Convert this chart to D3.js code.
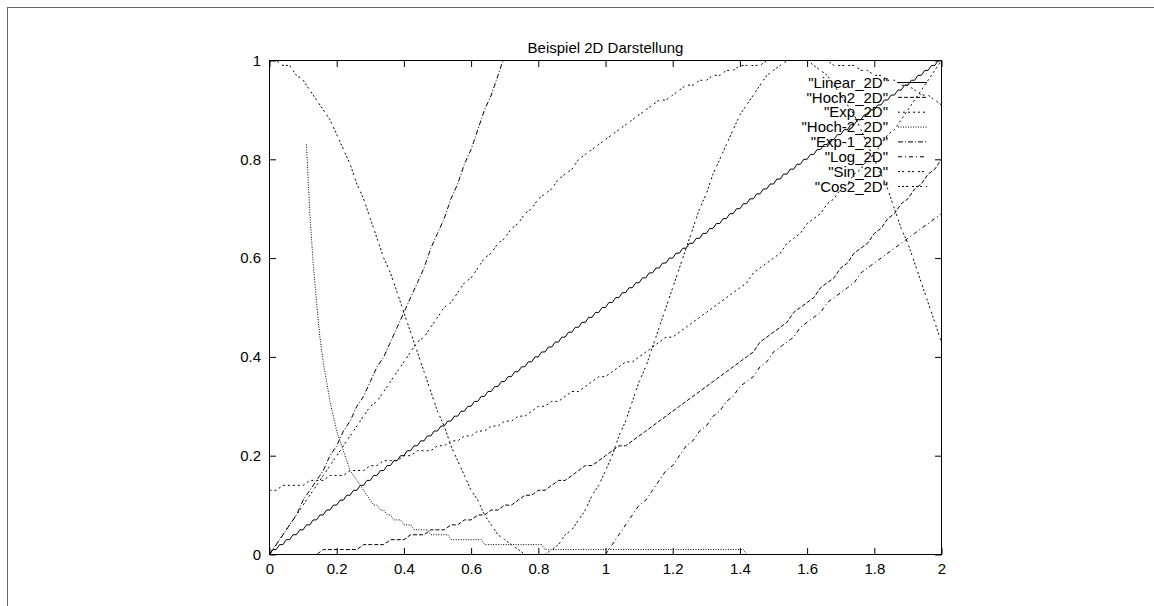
<!DOCTYPE html>
<html>
<head>
<meta charset="utf-8">
<script src="https://cdn.jsdelivr.net/npm/d3@7"></script>
<style>
body { margin: 0; background: #fff; }
svg { display: block; font-family: "Liberation Sans", Arial, Helvetica, sans-serif; }
</style>
</head>
<body>
<div id="chart"></div>
<script>
// axis ticks
var xTicks = [0, 0.2, 0.4, 0.6, 0.8, 1, 1.2, 1.4, 1.6, 1.8, 2];
var yTicks = [0, 0.2, 0.4, 0.6, 0.8, 1];

var labels = ['"Linear_2D"', '"Hoch2_2D"', '"Exp_2D"', '"Hoch-2_2D"', '"Exp-1_2D"', '"Log_2D"', '"Sin_2D"', '"Cos2_2D"'];

// each file is sampled from a start x with a fixed step
var starts = [0, 0, 0, 0.11, 0, 1, 0, 0];
var steps = [0.01, 0.02, 0.02, 0.01, 0.02, 0.02, 0.02, 0.02];

var linear2D = [0,
  0.01,0.01,0.02,0.02,0.03,0.03,0.04,0.04,0.05,0.05,
  0.06,0.06,0.07,0.07,0.08,0.08,0.09,0.09,0.10,0.10,
  0.11,0.11,0.12,0.12,0.13,0.13,0.14,0.14,0.15,0.15,
  0.16,0.16,0.17,0.17,0.18,0.18,0.19,0.19,0.20,0.20,
  0.21,0.21,0.22,0.22,0.23,0.23,0.24,0.24,0.25,0.25,
  0.26,0.26,0.27,0.27,0.28,0.28,0.29,0.29,0.30,0.30,
  0.31,0.31,0.32,0.32,0.33,0.33,0.34,0.34,0.35,0.35,
  0.36,0.36,0.37,0.37,0.38,0.38,0.39,0.39,0.40,0.40,
  0.41,0.41,0.42,0.42,0.43,0.43,0.44,0.44,0.45,0.45,
  0.46,0.46,0.47,0.47,0.48,0.48,0.49,0.49,0.50,0.50,
  0.51,0.51,0.52,0.52,0.53,0.53,0.54,0.54,0.55,0.55,
  0.56,0.56,0.57,0.57,0.58,0.58,0.59,0.59,0.60,0.60,
  0.61,0.61,0.62,0.62,0.63,0.63,0.64,0.64,0.65,0.65,
  0.66,0.66,0.67,0.67,0.68,0.68,0.69,0.69,0.70,0.70,
  0.71,0.71,0.72,0.72,0.73,0.73,0.74,0.74,0.75,0.75,
  0.76,0.76,0.77,0.77,0.78,0.78,0.79,0.79,0.80,0.80,
  0.81,0.81,0.82,0.82,0.83,0.83,0.84,0.84,0.85,0.85,
  0.86,0.86,0.87,0.87,0.88,0.88,0.89,0.89,0.90,0.90,
  0.91,0.91,0.92,0.92,0.93,0.93,0.94,0.94,0.95,0.95,
  0.96,0.96,0.97,0.97,0.98,0.98,0.99,0.99,1.00,1.00];

var hoch2_2D = [
  0.00,0.00,0.00,0.00,0.00,0.00,0.00,0.00,0.01,0.01,
  0.01,0.01,0.01,0.01,0.02,0.02,0.02,0.02,0.03,0.03,
  0.03,0.04,0.04,0.04,0.05,0.05,0.05,0.06,0.06,0.07,
  0.07,0.08,0.08,0.09,0.09,0.10,0.10,0.11,0.12,0.12,
  0.13,0.13,0.14,0.15,0.15,0.16,0.17,0.18,0.18,0.19,
  0.20,0.21,0.22,0.22,0.23,0.24,0.25,0.26,0.27,0.28,
  0.29,0.30,0.31,0.32,0.33,0.34,0.35,0.36,0.37,0.38,
  0.39,0.40,0.41,0.43,0.44,0.45,0.46,0.47,0.49,0.50,
  0.51,0.52,0.54,0.55,0.56,0.58,0.59,0.61,0.62,0.63,
  0.65,0.66,0.68,0.69,0.71,0.72,0.74,0.75,0.77,0.78,
  0.80];

var exp2D = [
  0.13,0.13,0.14,0.14,0.14,0.14,0.15,0.15,0.15,0.16,
  0.16,0.16,0.17,0.17,0.17,0.18,0.18,0.19,0.19,0.19,
  0.20,0.20,0.21,0.21,0.21,0.22,0.22,0.23,0.23,0.24,
  0.24,0.25,0.25,0.26,0.26,0.27,0.27,0.28,0.28,0.29,
  0.30,0.30,0.31,0.31,0.32,0.33,0.33,0.34,0.35,0.36,
  0.36,0.37,0.38,0.39,0.39,0.40,0.41,0.42,0.43,0.44,
  0.44,0.45,0.46,0.47,0.48,0.49,0.50,0.51,0.52,0.53,
  0.54,0.55,0.57,0.58,0.59,0.60,0.61,0.63,0.64,0.65,
  0.67,0.68,0.69,0.71,0.72,0.74,0.75,0.77,0.78,0.80,
  0.81,0.83,0.85,0.86,0.88,0.90,0.92,0.94,0.96,0.98,
  1.00];

var hochMinus2_2D = [
  0.83,0.69,0.59,0.51,0.44,0.39,0.35,0.31,0.28,0.25,
  0.23,0.21,0.19,0.17,0.16,0.15,0.14,0.13,0.12,0.11,
  0.10,0.10,0.09,0.09,0.08,0.08,0.07,0.07,0.07,0.06,
  0.06,0.06,0.05,0.05,0.05,0.05,0.05,0.04,0.04,0.04,
  0.04,0.04,0.04,0.03,0.03,0.03,0.03,0.03,0.03,0.03,
  0.03,0.03,0.03,0.02,0.02,0.02,0.02,0.02,0.02,0.02,
  0.02,0.02,0.02,0.02,0.02,0.02,0.02,0.02,0.02,0.02,
  0.02,0.01,0.01,0.01,0.01,0.01,0.01,0.01,0.01,0.01,
  0.01,0.01,0.01,0.01,0.01,0.01,0.01,0.01,0.01,0.01,
  0.01,0.01,0.01,0.01,0.01,0.01,0.01,0.01,0.01,0.01,
  0.01,0.01,0.01,0.01,0.01,0.01,0.01,0.01,0.01,0.01,
  0.01,0.01,0.01,0.01,0.01,0.01,0.01,0.01,0.01,0.01,
  0.01,0.01,0.01,0.01,0.01,0.01,0.01,0.01,0.01,0.01,
  0.01,0.00,0.00,0.00,0.00,0.00,0.00,0.00,0.00,0.00,
  0.00,0.00,0.00,0.00,0.00,0.00,0.00,0.00,0.00,0.00,
  0.00,0.00,0.00,0.00,0.00,0.00,0.00,0.00,0.00,0.00,
  0.00,0.00,0.00,0.00,0.00,0.00,0.00,0.00,0.00,0.00,
  0.00,0.00,0.00,0.00,0.00,0.00,0.00,0.00,0.00,0.00,
  0.00,0.00,0.00,0.00,0.00,0.00,0.00,0.00,0.00,0.00];

var expMinus1_2D = [
  0.00,0.02,0.04,0.06,0.08,0.11,0.13,0.15,0.17,0.20,
  0.22,0.25,0.27,0.30,0.32,0.35,0.38,0.40,0.43,0.46,
  0.49,0.52,0.55,0.58,0.62,0.65,0.68,0.72,0.75,0.79,
  0.82,0.86,0.90,0.93,0.97,1.01];

var log2D = [
  0.00,0.02,0.04,0.06,0.08,0.10,0.11,0.13,0.15,0.17,
  0.18,0.20,0.22,0.23,0.25,0.26,0.28,0.29,0.31,0.32,
  0.34,0.35,0.36,0.38,0.39,0.41,0.42,0.43,0.44,0.46,
  0.47,0.48,0.49,0.51,0.52,0.53,0.54,0.55,0.57,0.58,
  0.59,0.60,0.61,0.62,0.63,0.64,0.65,0.66,0.67,0.68,
  0.69];

var sin2D = [
  0.00,0.02,0.04,0.06,0.08,0.10,0.12,0.14,0.16,0.18,
  0.20,0.22,0.24,0.26,0.28,0.30,0.31,0.33,0.35,0.37,
  0.39,0.41,0.43,0.44,0.46,0.48,0.50,0.51,0.53,0.55,
  0.56,0.58,0.60,0.61,0.63,0.64,0.66,0.67,0.69,0.70,
  0.72,0.73,0.74,0.76,0.77,0.78,0.80,0.81,0.82,0.83,
  0.84,0.85,0.86,0.87,0.88,0.89,0.90,0.91,0.92,0.92,
  0.93,0.94,0.95,0.95,0.96,0.96,0.97,0.97,0.98,0.98,
  0.99,0.99,0.99,0.99,1.00,1.00,1.00,1.00,1.00,1.00,
  1.00,1.00,1.00,1.00,0.99,0.99,0.99,0.99,0.98,0.98,
  0.97,0.97,0.96,0.96,0.95,0.95,0.94,0.93,0.93,0.92,
  0.91];

var cos2_2D = [
  1.00,1.00,0.99,0.99,0.97,0.96,0.94,0.92,0.90,0.88,
  0.85,0.82,0.79,0.75,0.72,0.68,0.64,0.60,0.57,0.53,
  0.49,0.45,0.41,0.37,0.33,0.29,0.26,0.22,0.19,0.16,
  0.13,0.11,0.08,0.06,0.04,0.03,0.02,0.01,0.00,0.00,
  0.00,0.00,0.01,0.02,0.04,0.05,0.07,0.09,0.12,0.14,
  0.17,0.20,0.24,0.27,0.31,0.35,0.38,0.42,0.46,0.50,
  0.54,0.58,0.62,0.66,0.70,0.73,0.77,0.80,0.83,0.86,
  0.89,0.91,0.93,0.95,0.97,0.98,0.99,1.00,1.00,1.00,
  1.00,0.99,0.98,0.97,0.95,0.93,0.91,0.89,0.86,0.83,
  0.80,0.77,0.74,0.70,0.66,0.63,0.59,0.55,0.51,0.47,
  0.43];

var allValues = [linear2D, hoch2_2D, exp2D, hochMinus2_2D, expMinus1_2D, log2D, sin2D, cos2_2D];

// gnuplot style line types
var dashes = [null, "4,2", "2,3", "1,1.5", "5,2,1,2", "4,3,1,3", "2,2,2,4", "2,2,2,2,2,4"];

var svg = d3.select("#chart")
    .append("svg")
    .attr("width", 1154)
    .attr("height", 606);

var margin = {top: 60.5, right: 212.5, bottom: 51.5, left: 269.5},
    width = 1154 - margin.left - margin.right,
    height = 606 - margin.top - margin.bottom;

var x = d3.scaleLinear().domain([0, 2]).range([0, width]),
    y = d3.scaleLinear().domain([0, 1]).range([height, 0]);

// outer frame
svg.append("rect")
    .attr("x", 7.5)
    .attr("y", 7.5)
    .attr("width", 1400)
    .attr("height", 900)
    .attr("fill", "none")
    .attr("stroke", "#666");

var g = svg.append("g")
    .attr("transform", "translate(" + margin.left + "," + margin.top + ")");

svg.append("text")
    .attr("x", margin.left + width / 2)
    .attr("y", 52.5)
    .attr("text-anchor", "middle")
    .style("font-size", "15px")
    .text("Beispiel 2D Darstellung");

g.append("defs").append("clipPath")
    .attr("id", "clip")
    .append("rect")
    .attr("width", width)
    .attr("height", height);

function styleAxis(sel) {
    sel.select(".domain").remove();
    sel.selectAll("line").attr("stroke", "#000");
    sel.selectAll("text").style("font-size", "15px").attr("fill", "#000");
    sel.attr("font-family", null);
}

g.append("g")
    .attr("transform", "translate(0," + height + ")")
    .call(d3.axisBottom(x).tickValues(xTicks).tickSize(-6.5).tickPadding(9).tickFormat(d3.format("")))
    .call(styleAxis);

g.append("g")
    .call(d3.axisLeft(y).tickValues(yTicks).tickSize(-6.5).tickPadding(8.5).tickFormat(d3.format("")))
    .call(styleAxis);

g.append("g")
    .call(d3.axisTop(x).tickValues(xTicks).tickSize(-6.5).tickFormat(""))
    .call(styleAxis);

g.append("g")
    .attr("transform", "translate(" + width + ",0)")
    .call(d3.axisRight(y).tickValues(yTicks).tickSize(-6.5).tickFormat(""))
    .call(styleAxis);

g.append("rect")
    .attr("width", width)
    .attr("height", height)
    .attr("fill", "none")
    .attr("stroke", "#000");

var line = d3.line()
    .x(function (d) { return x(d.x); })
    .y(function (d) { return y(d.y); });

// key, top right inside the plot
var keyRight = 888 - margin.left,
    keyTop = 82.5 - margin.top,
    keyRow = 14.85;

allValues.forEach(function (values, i) {
    var pts = values.map(function (v, j) {
        return {x: starts[i] + j * steps[i], y: v};
    });

    g.append("text")
        .attr("x", keyRight)
        .attr("y", keyTop + i * keyRow)
        .attr("dy", "0.35em")
        .attr("text-anchor", "end")
        .style("font-size", "15px")
        .text(labels[i]);

    g.append("line")
        .attr("x1", keyRight + 10)
        .attr("x2", keyRight + 39)
        .attr("y1", keyTop + i * keyRow)
        .attr("y2", keyTop + i * keyRow)
        .attr("stroke", "#000")
        .attr("stroke-dasharray", dashes[i]);

    g.append("path")
        .datum(pts)
        .attr("clip-path", "url(#clip)")
        .attr("fill", "none")
        .attr("stroke", "#000")
        .attr("stroke-width", 1)
        .attr("stroke-dasharray", dashes[i])
        .attr("d", line);
});
</script>
</body>
</html>
